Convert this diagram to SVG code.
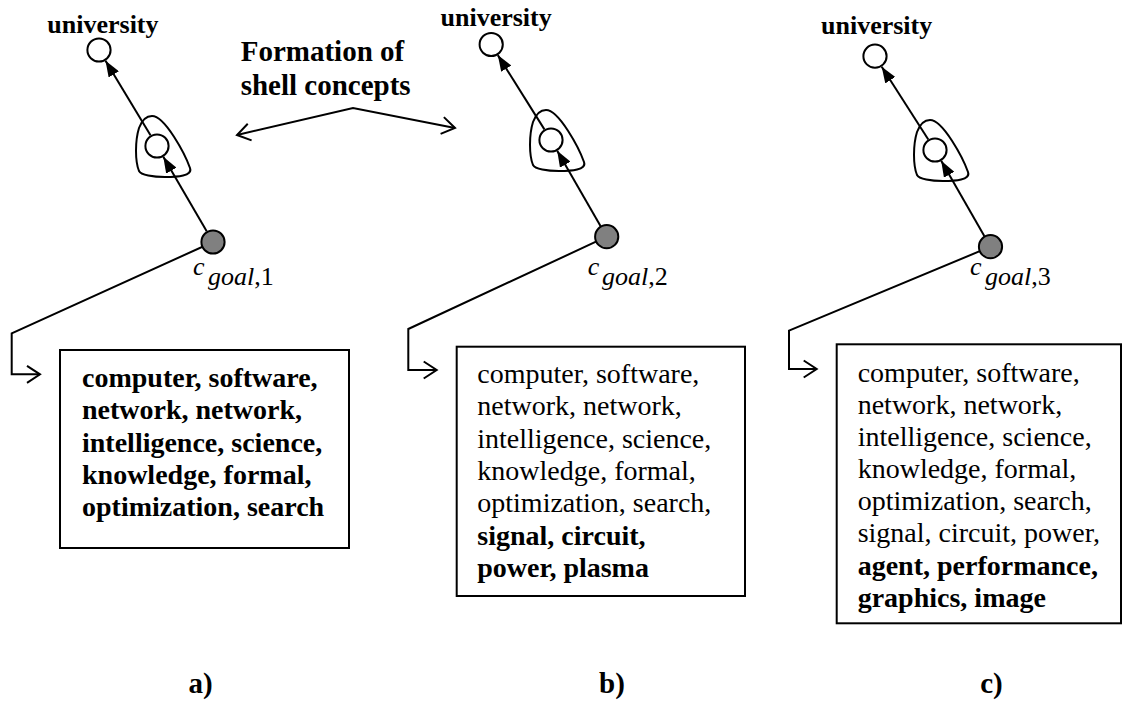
<svg xmlns="http://www.w3.org/2000/svg" width="1122" height="704" viewBox="0 0 1122 704">
  <style>
    text { font-family: 'Liberation Serif', 'Times New Roman', Times, 'DejaVu Serif', serif; fill: #000; }
    .title { font-size: 26px; font-weight: bold; }
    .note { font-size: 29px; font-weight: bold; }
    .panel { font-size: 29px; font-weight: bold; text-anchor: middle; }
    .goal { font-size: 26px; font-style: italic; }
    .goal .idx { font-style: normal; }
    .terms { font-size: 28px; }
    .terms .b { font-weight: bold; }
    .edge { fill: none; stroke: #000; stroke-width: 2; }
    .concept { fill: #fff; stroke: #000; stroke-width: 2; }
    .goalnode { fill: #808080; stroke: #000; stroke-width: 2; }
    .shell { fill: none; stroke: #000; stroke-width: 2; }
    .box { fill: #fff; stroke: #000; stroke-width: 2; }
  </style>
  <defs>
    <marker id="solid" viewBox="0 0 16 12" refX="16" refY="6" markerWidth="16" markerHeight="12" markerUnits="userSpaceOnUse" orient="auto">
      <path d="M0,0 L16,6 L0,12 Z" fill="#000"/>
    </marker>
    <marker id="open" viewBox="0 0 16 20" refX="14" refY="10" markerWidth="16" markerHeight="20" markerUnits="userSpaceOnUse" orient="auto-start-reverse">
      <path d="M1,1.5 L14,10 L1,18.5" fill="none" stroke="#000" stroke-width="2"/>
    </marker>
    <path id="shellShape" d="M -5,-30 C 8,-30 28,8 33,22 C 36,30 20,31 8,31 C -4,31 -16,29 -18,25 C -22,15 -22,-5 -18,-18 C -15,-26 -10,-30 -5,-30 Z"/>
  </defs>

  <!-- connectors -->
  <g id="connectors">
    <!-- panel a -->
    <line class="edge" x1="206.7" y1="231.2" x2="163.3" y2="156.8" marker-end="url(#solid)"/>
    <line class="edge" x1="150.5" y1="135.3" x2="105.5" y2="60.7" marker-end="url(#solid)"/>
    <polyline class="edge" points="213,242 11.7,333.3 11.7,374.3 40,374.3" marker-end="url(#open)"/>
    <!-- shell-concept callout -->
    <polyline class="edge" points="237,135 353,108 455,128" marker-start="url(#open)" marker-end="url(#open)"/>
    <!-- panel b -->
    <line class="edge" x1="600.5" y1="225.9" x2="557.2" y2="150.8" marker-end="url(#solid)"/>
    <line class="edge" x1="544.4" y1="129.4" x2="497.8" y2="55.1" marker-end="url(#solid)"/>
    <polyline class="edge" points="606.7,236.7 408.3,329 408.3,370 436.7,370" marker-end="url(#open)"/>
    <!-- panel c -->
    <line class="edge" x1="984.3" y1="235.9" x2="941.2" y2="160.8" marker-end="url(#solid)"/>
    <line class="edge" x1="928.3" y1="139.5" x2="881.7" y2="66.7" marker-end="url(#solid)"/>
    <polyline class="edge" points="990.5,246.7 789,330.7 789,369 816.7,369" marker-end="url(#open)"/>
  </g>

  <!-- panel a nodes -->
  <g id="a-university">
    <text class="title" x="47.3" y="33">university</text>
    <circle class="concept" cx="99" cy="50" r="11.6"/>
  </g>
  <g id="a-shell">
    <use href="#shellShape" class="shell" transform="translate(157,146)"/>
    <circle class="concept" cx="157" cy="146" r="11.6"/>
  </g>
  <g id="a-goal">
    <circle class="goalnode" cx="213" cy="242" r="11.6"/>
    <text class="goal" x="193" y="275">c<tspan x="208" y="285">goal</tspan><tspan class="idx">,1</tspan></text>
  </g>
  <g id="a-terms">
    <rect class="box" x="60" y="350" width="289" height="198"/>
    <text class="terms">
      <tspan class="b" x="82" y="387">computer, software,</tspan>
      <tspan class="b" x="82" y="419.3">network, network,</tspan>
      <tspan class="b" x="82" y="451.6">intelligence, science,</tspan>
      <tspan class="b" x="82" y="484">knowledge, formal,</tspan>
      <tspan class="b" x="82" y="516.2">optimization, search</tspan>
    </text>
  </g>
  <g id="a-label">
    <text class="panel" x="200.5" y="693">a)</text>
  </g>

  <!-- callout text -->
  <g id="shell-note">
    <text class="note" x="240.7" y="61">Formation of</text>
    <text class="note" x="240.7" y="95">shell concepts</text>
  </g>

  <!-- panel b nodes -->
  <g id="b-university">
    <text class="title" x="440.5" y="26">university</text>
    <circle class="concept" cx="491.2" cy="44.5" r="11.6"/>
  </g>
  <g id="b-shell">
    <use href="#shellShape" class="shell" transform="translate(551,140)"/>
    <circle class="concept" cx="551" cy="140" r="11.6"/>
  </g>
  <g id="b-goal">
    <circle class="goalnode" cx="606.7" cy="236.7" r="11.6"/>
    <text class="goal" x="587.7" y="275">c<tspan x="602" y="285">goal</tspan><tspan class="idx">,2</tspan></text>
  </g>
  <g id="b-terms">
    <rect class="box" x="456.7" y="346.7" width="288.3" height="249.3"/>
    <text class="terms">
      <tspan x="477.3" y="383">computer, software,</tspan>
      <tspan x="477.3" y="415.3">network, network,</tspan>
      <tspan x="477.3" y="447.6">intelligence, science,</tspan>
      <tspan x="477.3" y="479.9">knowledge, formal,</tspan>
      <tspan x="477.3" y="512.2">optimization, search,</tspan>
      <tspan class="b" x="477.3" y="544.5">signal, circuit,</tspan>
      <tspan class="b" x="477.3" y="576.8">power, plasma</tspan>
    </text>
  </g>
  <g id="b-label">
    <text class="panel" x="612" y="693">b)</text>
  </g>

  <!-- panel c nodes -->
  <g id="c-university">
    <text class="title" x="821" y="34.3">university</text>
    <circle class="concept" cx="875" cy="56.2" r="11.6"/>
  </g>
  <g id="c-shell">
    <use href="#shellShape" class="shell" transform="translate(935,150)"/>
    <circle class="concept" cx="935" cy="150" r="11.6"/>
  </g>
  <g id="c-goal">
    <circle class="goalnode" cx="990.5" cy="246.7" r="11.6"/>
    <text class="goal" x="970" y="275">c<tspan x="985" y="285">goal</tspan><tspan class="idx">,3</tspan></text>
  </g>
  <g id="c-terms">
    <rect class="box" x="836.7" y="344.3" width="284.3" height="279"/>
    <text class="terms">
      <tspan x="857.7" y="381.7">computer, software,</tspan>
      <tspan x="857.7" y="413.8">network, network,</tspan>
      <tspan x="857.7" y="446">intelligence, science,</tspan>
      <tspan x="857.7" y="478.1">knowledge, formal,</tspan>
      <tspan x="857.7" y="510.3">optimization, search,</tspan>
      <tspan x="857.7" y="542.4">signal, circuit, power,</tspan>
      <tspan class="b" x="857.7" y="574.5">agent, performance,</tspan>
      <tspan class="b" x="857.7" y="606.7">graphics, image</tspan>
    </text>
  </g>
  <g id="c-label">
    <text class="panel" x="991.5" y="693">c)</text>
  </g>
</svg>
